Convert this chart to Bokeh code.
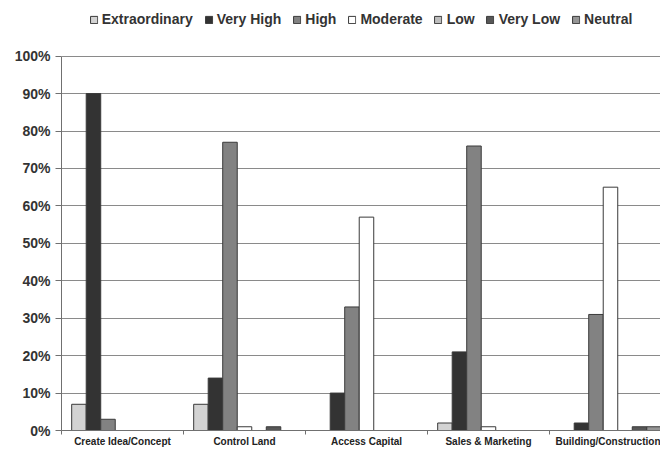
from bokeh.plotting import figure
from bokeh.models import ColumnDataSource, Range1d, FixedTicker, NumeralTickFormatter, Legend, LegendItem
from bokeh.transform import dodge
from bokeh.embed import file_html
from bokeh.resources import INLINE

categories = ["Create Idea/Concept", "Control Land", "Access Capital", "Sales & Marketing", "Building/Construction"]
series = ["Extraordinary", "Very High", "High", "Moderate", "Low", "Very Low", "Neutral"]
extraordinary = [7, 7, 0, 2, 0]
very_high = [90, 14, 10, 21, 2]
high = [3, 77, 33, 76, 31]
moderate = [0, 1, 57, 1, 65]
low = [0, 0, 0, 0, 0]
very_low = [0, 1, 0, 0, 1]
neutral = [0, 0, 0, 0, 1]
y_ticks = [0, 10, 20, 30, 40, 50, 60, 70, 80, 90, 100]

values = [extraordinary, very_high, high, moderate, low, very_low, neutral]
colors = ["#d3d3d3", "#333333", "#828282", "#ffffff", "#bdbdbd", "#575757", "#969696"]

FONT = "Liberation Sans"
bar_w = 0.119

data = {"xc": [i + 0.5 for i in range(len(categories))]}
for s, v in zip(series, values):
    data[s] = [x / 100 for x in v]
source = ColumnDataSource(data)

p = figure(width=660, height=449, output_backend="svg", toolbar_location=None,
           x_range=Range1d(0, 4.91), y_range=Range1d(0, 1.138),
           min_border_left=61, min_border_right=0, min_border_top=4, min_border_bottom=0)
p.outline_line_color = None
p.background_fill_color = "white"

items = []
for i, (s, c) in enumerate(zip(series, colors)):
    r = p.vbar(x=dodge("xc", (i - 3) * bar_w, range=p.x_range), top=s, width=bar_w, bottom=0,
               source=source, fill_color=c, line_color="#3a3a3a", line_width=1)
    items.append(LegendItem(label=s, renderers=[r]))

# x axis
p.xaxis.ticker = FixedTicker(ticks=[i + 0.5 for i in range(len(categories))],
                             minor_ticks=list(range(len(categories) + 1)))
p.xaxis.major_label_overrides = {i + 0.5: c for i, c in enumerate(categories)}
p.xaxis.major_tick_line_color = None
p.xaxis.major_tick_out = 4
p.xaxis.major_tick_in = 0
p.xaxis.minor_tick_line_color = "#707070"
p.xaxis.minor_tick_out = 4
p.xaxis.minor_tick_in = 0
p.xaxis.axis_line_color = "#707070"
p.xaxis.major_label_text_font = FONT
p.xaxis.major_label_text_font_style = "bold"
p.xaxis.major_label_text_font_size = "10px"
p.xaxis.major_label_text_color = "#222222"
p.xaxis.major_label_standoff = 1
p.xgrid.grid_line_color = None

# y axis
p.yaxis.ticker = FixedTicker(ticks=[t / 100 for t in y_ticks], minor_ticks=[])
p.yaxis.formatter = NumeralTickFormatter(format="0%")
p.yaxis.bounds = (0, 1)
p.yaxis.axis_line_color = "#707070"
p.yaxis.major_tick_line_color = "#707070"
p.yaxis.major_tick_out = 6
p.yaxis.major_tick_in = 0
p.yaxis.minor_tick_line_color = None
p.yaxis.major_label_text_font = FONT
p.yaxis.major_label_text_font_style = "bold"
p.yaxis.major_label_text_font_size = "14px"
p.yaxis.major_label_text_color = "#333333"
p.yaxis.major_label_standoff = 5
p.ygrid.grid_line_color = "#8a8a8a"
p.ygrid.grid_line_width = 1

legend = Legend(items=items, orientation="horizontal", location="top_center",
                glyph_width=9, glyph_height=9, label_standoff=4, spacing=11,
                padding=0, margin=7, border_line_color=None, background_fill_alpha=0,
                label_text_font=FONT, label_text_font_style="bold",
                label_text_font_size="14px", label_text_color="#333333")
p.add_layout(legend)

open("out.html", "w").write(file_html(p, INLINE))
